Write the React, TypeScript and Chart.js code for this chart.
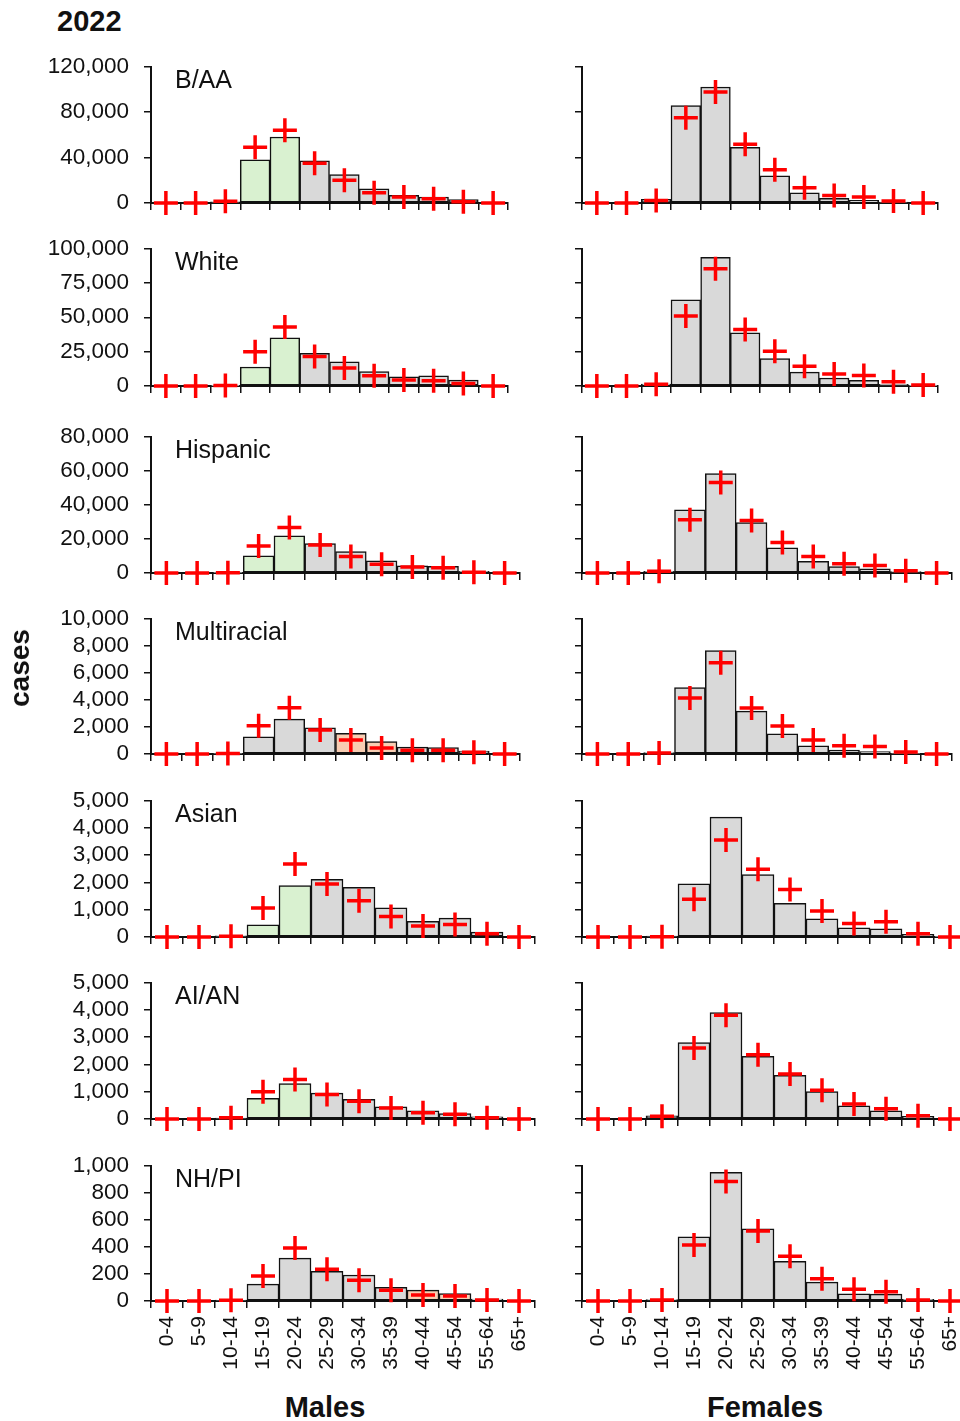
import React, { useEffect, useRef } from "react";
import { Chart, registerables } from "chart.js";

Chart.register(...registerables);

const FONT = "'Liberation Sans', Arial, Helvetica, sans-serif";

// ---------- data ----------
const ageGroups = ["0-4", "5-9", "10-14", "15-19", "20-24", "25-29", "30-34", "35-39", "40-44", "45-54", "55-64", "65+"];
const groups = ["B/AA", "White", "Hispanic", "Multiracial", "Asian", "AI/AN", "NH/PI"];
const yMax = [120000, 100000, 80000, 10000, 5000, 5000, 1000];
const yStep = [40000, 25000, 20000, 2000, 1000, 1000, 200];

const baaMaleBars = [0, 0, 1000, 38000, 58000, 37000, 25000, 12500, 6700, 5300, 2900, 0];
const baaMaleMarks = [0, 0, 1500, 49000, 64000, 35000, 20000, 9000, 5300, 3800, 1200, 0];
const baaFemaleBars = [0, 0, 3200, 85700, 102000, 49000, 23800, 9000, 4000, 2300, 900, 0];
const baaFemaleMarks = [0, 0, 2300, 75000, 97600, 51700, 29300, 13400, 6700, 5200, 1700, 0];

const whiteMaleBars = [0, 0, 300, 13800, 35000, 23800, 17600, 10500, 6700, 7400, 4300, 0];
const whiteMaleMarks = [0, 0, 300, 25000, 43000, 21400, 13100, 7400, 4300, 3800, 1900, 0];
const whiteFemaleBars = [0, 0, 1400, 62700, 93500, 38700, 20000, 10100, 5800, 4100, 1200, 300];
const whiteFemaleMarks = [0, 0, 1200, 51000, 85300, 41100, 25200, 14400, 8700, 7700, 3100, 700];

const hispMaleBars = [0, 0, 300, 10000, 21800, 17300, 12500, 7100, 4200, 3900, 1000, 0];
const hispMaleMarks = [0, 0, 200, 15800, 26600, 16400, 9600, 5200, 3500, 3100, 400, 0];
const hispFemaleBars = [0, 0, 1000, 37000, 58200, 29500, 14700, 6900, 3700, 2500, 800, 0];
const hispFemaleMarks = [0, 0, 1000, 31200, 53000, 30800, 17900, 9600, 5400, 4400, 1300, 0];

const multiMaleBars = [0, 0, 50, 1260, 2570, 1940, 1530, 920, 510, 480, 220, 0];
const multiMaleMarks = [0, 0, 30, 2080, 3410, 1770, 1040, 440, 270, 270, 120, 0];
const multiFemaleBars = [0, 0, 100, 4900, 7630, 3170, 1480, 600, 290, 170, 50, 0];
const multiFemaleMarks = [0, 0, 70, 4140, 6730, 3390, 2060, 1040, 600, 560, 150, 0];

const asianMaleBars = [0, 0, 40, 450, 1880, 2110, 1820, 1070, 570, 690, 180, 0];
const asianMaleMarks = [0, 0, 30, 1060, 2670, 1940, 1330, 750, 400, 460, 120, 0];
const asianFemaleBars = [0, 0, 30, 1950, 4390, 2290, 1230, 670, 340, 300, 100, 20];
const asianFemaleMarks = [0, 0, 10, 1380, 3550, 2480, 1740, 950, 490, 560, 120, 0];

const aianMaleBars = [0, 0, 30, 760, 1300, 950, 720, 450, 300, 200, 80, 0];
const aianMaleMarks = [0, 0, 50, 1000, 1450, 900, 650, 400, 230, 170, 50, 0];
const aianFemaleBars = [0, 0, 120, 2800, 3900, 2300, 1600, 1000, 480, 300, 100, 0];
const aianFemaleMarks = [0, 0, 100, 2600, 3800, 2350, 1650, 1050, 550, 380, 120, 0];

const nhpiMaleBars = [0, 0, 7, 124, 316, 219, 192, 100, 80, 54, 15, 0];
const nhpiMaleMarks = [0, 0, 5, 185, 392, 234, 153, 80, 44, 36, 7, 0];
const nhpiFemaleBars = [0, 0, 10, 474, 950, 532, 292, 139, 53, 51, 12, 0];
const nhpiFemaleMarks = [0, 0, 7, 413, 882, 517, 330, 165, 87, 68, 7, 0];

const maleBars = [baaMaleBars, whiteMaleBars, hispMaleBars, multiMaleBars, asianMaleBars, aianMaleBars, nhpiMaleBars];
const maleMarks = [baaMaleMarks, whiteMaleMarks, hispMaleMarks, multiMaleMarks, asianMaleMarks, aianMaleMarks, nhpiMaleMarks];
const femaleBars = [baaFemaleBars, whiteFemaleBars, hispFemaleBars, multiFemaleBars, asianFemaleBars, aianFemaleBars, nhpiFemaleBars];
const femaleMarks = [baaFemaleMarks, whiteFemaleMarks, hispFemaleMarks, multiFemaleMarks, asianFemaleMarks, aianFemaleMarks, nhpiFemaleMarks];

const maleGreen = [["15-19", "20-24"], ["15-19", "20-24"], ["15-19", "20-24"], [], ["15-19", "20-24"], ["15-19", "20-24"], []];
const maleOrange = [[], [], [], ["30-34", "35-39"], [], [], ["40-44", "45-54"]];

// ---------- layout ----------
const rowTop = [65, 247, 435, 617, 799, 981, 1164];
const rowZero = [203, 386, 573, 754, 937, 1119, 1301];
const maleAxisX = 151;
const maleRight = [508, 508, 520, 520, 535, 535, 535];
const femaleAxisX = 582;
const femaleRight = [938, 938, 952, 952, 966, 966, 966];

const GRAY = "#d9d9d9";
const GREEN = "#d9f1d0";
const ORANGE = "#f8cdb2";
const PAD_TOP = 14;
const PAD_RIGHT = 26;

type PanelProps = {
  left: number;
  top: number;
  width: number;
  height: number;
  yAxisWidth: number;
  xAxisHeight: number;
  padBottom: number;
  showY: boolean;
  showX: boolean;
  title: string;
  bars: number[];
  marks: number[];
  colors: string[];
  max: number;
  step: number;
};

const titlePlugin = {
  id: "panelTitle",
  afterDraw(chart: any, _args: any, opts: any) {
    if (!opts || !opts.text) return;
    const { ctx, chartArea } = chart;
    ctx.save();
    ctx.font = `25px ${FONT}`;
    ctx.fillStyle = "#111";
    ctx.textBaseline = "middle";
    ctx.textAlign = "left";
    ctx.fillText(opts.text, chartArea.left + 24, chartArea.top + 15);
    ctx.restore();
  },
};

function Panel(p: PanelProps) {
  const ref = useRef<HTMLCanvasElement | null>(null);
  useEffect(() => {
    if (!ref.current) return;
    const chart = new Chart(ref.current, {
      type: "bar",
      data: {
        labels: ageGroups,
        datasets: [
          {
            type: "line",
            data: p.marks,
            showLine: false,
            pointStyle: "cross",
            pointRadius: 12,
            pointHoverRadius: 12,
            pointBorderWidth: 3.5,
            pointBorderColor: "#ff0000",
            borderColor: "#ff0000",
            backgroundColor: "#ff0000",
            clip: false,
            order: 0,
          } as any,
          {
            type: "bar",
            data: p.bars,
            backgroundColor: p.colors,
            borderColor: "#111",
            borderWidth: 1.5,
            borderSkipped: false,
            categoryPercentage: 1,
            barPercentage: 1,
            order: 1,
          } as any,
        ],
      },
      options: {
        animation: false,
        responsive: false,
        events: [],
        layout: { padding: { top: PAD_TOP, right: PAD_RIGHT, bottom: p.padBottom, left: 0 } },
        plugins: {
          legend: { display: false },
          tooltip: { enabled: false },
          panelTitle: { text: p.title },
        } as any,
        scales: {
          x: {
            offset: true,
            grid: { offset: true, drawOnChartArea: false, drawTicks: true, tickLength: 7, color: "#111", lineWidth: 1.5 },
            border: { display: true, color: "#111", width: 2 },
            ticks: {
              display: p.showX,
              autoSkip: false,
              minRotation: 90,
              maxRotation: 90,
              padding: 8,
              color: "#111",
              font: { family: FONT, size: 21 },
            },
            afterFit: (s: any) => {
              s.height = p.xAxisHeight;
              s.paddingLeft = 0;
              s.paddingRight = 0;
            },
          },
          y: {
            min: 0,
            max: p.max,
            grid: { drawOnChartArea: false, drawTicks: true, tickLength: 7, color: "#111", lineWidth: 1.5 },
            border: { display: true, color: "#111", width: 2 },
            ticks: {
              stepSize: p.step,
              autoSkip: false,
              padding: 15,
              color: p.showY ? "#111" : "rgba(0,0,0,0)",
              font: { family: FONT, size: 22.5 },
              callback: (v: any) => Number(v).toLocaleString("en-US"),
            },
            afterFit: (s: any) => {
              s.width = p.yAxisWidth;
              s.paddingTop = 0;
              s.paddingBottom = 0;
            },
          },
        },
      } as any,
      plugins: [titlePlugin],
    });
    return () => chart.destroy();
  }, []);
  return (
    <canvas
      ref={ref}
      width={p.width}
      height={p.height}
      style={{ position: "absolute", left: p.left, top: p.top, width: p.width, height: p.height }}
    />
  );
}

function colorsFor(i: number, male: boolean): string[] {
  return ageGroups.map((g) => {
    if (male && maleGreen[i].includes(g)) return GREEN;
    if (male && maleOrange[i].includes(g)) return ORANGE;
    return GRAY;
  });
}

export default function App() {
  const panels: PanelProps[] = [];
  groups.forEach((g, i) => {
    const last = i === groups.length - 1;
    const plotH = rowZero[i] - rowTop[i];
    const xH = last ? 75 : 7;
    const padB = last ? 4 : 14;
    const h = PAD_TOP + plotH + xH + padB;
    panels.push({
      left: 0,
      top: rowTop[i] - PAD_TOP,
      width: maleRight[i] + PAD_RIGHT,
      height: h,
      yAxisWidth: maleAxisX,
      xAxisHeight: xH,
      padBottom: padB,
      showY: true,
      showX: last,
      title: g,
      bars: maleBars[i],
      marks: maleMarks[i],
      colors: colorsFor(i, true),
      max: yMax[i],
      step: yStep[i],
    });
    panels.push({
      left: femaleAxisX - 22,
      top: rowTop[i] - PAD_TOP,
      width: femaleRight[i] - (femaleAxisX - 22) + PAD_RIGHT,
      height: h,
      yAxisWidth: 22,
      xAxisHeight: xH,
      padBottom: padB,
      showY: false,
      showX: last,
      title: "",
      bars: femaleBars[i],
      marks: femaleMarks[i],
      colors: colorsFor(i, false),
      max: yMax[i],
      step: yStep[i],
    });
  });

  const bold = (size: number): React.CSSProperties => ({
    position: "absolute",
    fontFamily: FONT,
    fontWeight: "bold",
    fontSize: size,
    color: "#111",
    lineHeight: `${size + 4}px`,
    whiteSpace: "nowrap",
  });

  return (
    <div style={{ position: "absolute", left: 0, top: 0, width: 960, height: 1421, overflow: "hidden", background: "#fff" }}>
      {panels.map((p, k) => (
        <Panel key={k} {...p} />
      ))}
      <div style={{ ...bold(29), left: 57, top: 5 }}>2022</div>
      <div
        style={{
          ...bold(28),
          left: 20,
          top: 668,
          transform: "translate(-50%, -50%) rotate(-90deg)",
        }}
      >
        cases
      </div>
      <div style={{ ...bold(29), left: 325, top: 1407, transform: "translate(-50%, -50%)" }}>Males</div>
      <div style={{ ...bold(29), left: 765, top: 1407, transform: "translate(-50%, -50%)" }}>Females</div>
    </div>
  );
}
